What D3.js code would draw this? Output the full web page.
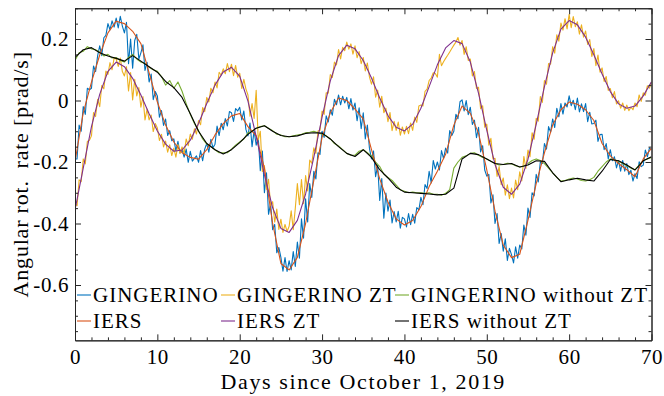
<!DOCTYPE html>
<html>
<head>
<meta charset="utf-8">
<script src="https://cdn.jsdelivr.net/npm/d3@7"></script>
<style>
  body { margin: 0; background: #fff; }
  svg text { font-family: "Liberation Serif", "Times New Roman", serif; fill: #000; }
</style>
</head>
<body>
<svg id="chart" width="664" height="396"></svg>
<script>
// daily IERS values (prad/s), day 0..70
var iersStep = 1;
var iers = [-0.199,-0.04,0.06,0.148,0.22, 0.258,0.25,0.225,0.185,0.09,
  -0.005,-0.08,-0.135,-0.17,-0.185, -0.191,-0.16,-0.112,-0.075,-0.05,
  -0.042,-0.085,-0.115,-0.22,-0.40, -0.53,-0.551,-0.51,-0.40,-0.26,
  -0.12,-0.04,0.008,0.0,-0.028, -0.06,-0.16,-0.255,-0.33,-0.385,
  -0.405,-0.39,-0.345,-0.28,-0.23, -0.175,-0.08,-0.018,-0.042,-0.107,
  -0.226,-0.36,-0.47,-0.511,-0.50, -0.39,-0.27,-0.17,-0.08,-0.03,
  -0.005,-0.012,-0.03,-0.065,-0.14, -0.18,-0.205,-0.225,-0.248,-0.19,
  -0.155];
var iersZT = [-0.356,-0.22,-0.085,0.02,0.095, 0.125,0.110,0.072,0.018,-0.043,
  -0.099,-0.142,-0.165,-0.161,-0.129, -0.075,-0.010,0.050,0.093,0.108,
  0.079,-0.002,-0.117,-0.242,-0.349, -0.416,-0.429,-0.39,-0.304,-0.184,
  -0.054,0.064,0.146,0.18,0.168, 0.130,0.073,0.008,-0.049,-0.087,
  -0.099,-0.077,-0.025,0.045,0.116, 0.171,0.195,0.185,0.125,0.023,
  -0.097,-0.208,-0.282,-0.305,-0.272, -0.191,-0.078,0.045,0.155,0.232,
  0.26,0.246,0.206,0.149,0.086, 0.029,-0.011,-0.025,-0.018,0.015,
  0.061];
var iersNoZT = [0.140,0.165,0.172,0.155,0.145, 0.137,0.128,0.146,0.128,0.110,
  0.092,0.062,0.042,0.010,-0.043, -0.100,-0.140,-0.160,-0.174,-0.160,
  -0.137,-0.110,-0.090,-0.082,-0.100, -0.114,-0.118,-0.115,-0.107,-0.105,
  -0.106,-0.125,-0.150,-0.172,-0.182, -0.160,-0.185,-0.225,-0.252,-0.282,
  -0.298,-0.300,-0.302,-0.304,-0.307, -0.305,-0.285,-0.190,-0.172,-0.176,
  -0.190,-0.205,-0.208,-0.205,-0.216, -0.210,-0.196,-0.198,-0.235,-0.264,
  -0.258,-0.253,-0.258,-0.262,-0.230, -0.192,-0.196,-0.210,-0.226,-0.196,
  -0.183];

// GINGERINO, every 6 hours (4 values per day)
var gingStep = 0.25;
var gingerino = [
  -0.19,-0.19,-0.08,-0.10, -0.02,-0.045,0.04,0.035, 0.04,0.112,0.094,0.146, 0.178,0.146,0.204,0.212, 0.25,0.23,0.259,0.239,
  0.268,0.236,0.274,0.242, 0.22,0.254,0.12,0.20, 0.105,0.195,0.215,0.135, 0.155,0.181,0.098,0.124, 0.06,0.086,0.003,0.029,
  0.015,-0.054,-0.033,-0.081, -0.06,-0.114,-0.098,-0.131, -0.125,-0.164,-0.133,-0.171, -0.16,-0.184,-0.158,-0.201, -0.165,-0.197,-0.188,-0.18,
  -0.201,-0.163,-0.196,-0.158, -0.14,-0.168,-0.126,-0.154, -0.142,-0.083,-0.114,-0.074, -0.095,-0.059,-0.083,-0.036, -0.04,-0.068,-0.026,-0.034,
  -0.022,-0.063,-0.034,-0.094, -0.115,-0.073,-0.15,-0.098, -0.145,-0.121,-0.228,-0.164, -0.30,-0.235,-0.37,-0.335, -0.42,-0.403,-0.495,-0.478,
  -0.51,-0.555,-0.511,-0.556, -0.521,-0.551,-0.491,-0.54, -0.46,-0.513,-0.385,-0.448, -0.32,-0.395,-0.27,-0.315, -0.23,-0.255,-0.17,-0.175,
  -0.10,-0.12,-0.05,-0.07, -0.03,-0.048,0.004,-0.014, 0.018,-0.014,0.014,-0.008, 0.01,-0.027,0.006,-0.031, -0.008,-0.066,-0.024,-0.092,
  -0.04,-0.125,-0.08,-0.155, -0.19,-0.164,-0.248,-0.211, -0.325,-0.254,-0.383,-0.301, -0.36,-0.324,-0.398,-0.361, -0.395,-0.36,-0.415,-0.38,
  -0.385,-0.411,-0.368,-0.404, -0.37,-0.399,-0.348,-0.356, -0.315,-0.339,-0.273,-0.286, -0.23,-0.268,-0.195,-0.223, -0.20,-0.226,-0.163,-0.189,
  -0.155,-0.171,-0.098,-0.114, -0.10,-0.045,-0.059,-0.004, 0.002,-0.034,0.0,-0.046, -0.022,-0.078,-0.064,-0.121, -0.087,-0.167,-0.147,-0.226,
  -0.246,-0.24,-0.333,-0.307, -0.40,-0.368,-0.465,-0.433, -0.49,-0.45,-0.52,-0.481, -0.501,-0.528,-0.476,-0.513, -0.47,-0.483,-0.405,-0.438,
  -0.35,-0.38,-0.30,-0.31, -0.24,-0.265,-0.20,-0.205, -0.14,-0.158,-0.085,-0.103, -0.06,-0.088,-0.025,-0.053, -0.01,-0.044,-0.008,-0.021,
  0.015,-0.017,0.001,-0.03, 0.008,-0.037,-0.011,-0.036, -0.01,-0.069,-0.038,-0.076, -0.075,-0.064,-0.133,-0.111, -0.11,-0.16,-0.14,-0.19,
  -0.16,-0.196,-0.183,-0.219, -0.195,-0.23,-0.195,-0.23, -0.205,-0.241,-0.227,-0.262, -0.238,-0.254,-0.199,-0.215, -0.21,-0.161,-0.183,-0.154,
  -0.16];
var gingerinoZT = [
  -0.336,-0.342,-0.258,-0.264, -0.19,-0.206,-0.133,-0.129, -0.115,-0.039,-0.052,0.004, -0.02,0.049,0.038,0.096, 0.085,0.123,0.10,0.138,
  0.135,0.111,0.138,0.094, 0.08,0.11,0.031,0.091, 0.002,0.069,0.015,0.042, -0.022,0.013,-0.063,-0.028, -0.063,-0.047,-0.101,-0.075,
  -0.089,-0.13,-0.11,-0.151, -0.132,-0.168,-0.144,-0.179, -0.155,-0.184,-0.143,-0.172, -0.151,-0.173,-0.125,-0.147, -0.109,-0.126,-0.092,-0.109,
  -0.065,-0.079,-0.023,-0.036, 0.01,-0.005,0.04,0.025, 0.06,0.041,0.092,0.082, 0.103,0.087,0.12,0.094, 0.118,0.081,0.114,0.076,
  0.089,0.039,0.069,0.038, 0.018,-0.051,-0.01,-0.058, 0.033,-0.128,-0.10,-0.231, -0.212,-0.289,-0.256,-0.342, -0.329,-0.396,-0.353,-0.419,
  -0.386,-0.429,-0.403,-0.426, -0.409,-0.359,-0.42,-0.35, -0.27,-0.339,-0.257,-0.336, -0.244,-0.294,-0.194,-0.204, -0.154,-0.172,-0.099,-0.097,
  -0.034,-0.045,0.025,0.024, 0.084,0.075,0.125,0.116, 0.166,0.135,0.173,0.162, 0.19,0.167,0.184,0.151, 0.178,0.139,0.159,0.12,
  0.14,0.096,0.122,0.077, 0.053,0.077,0.011,0.034, -0.022,0.014,-0.04,-0.025, -0.069,-0.039,-0.098,-0.068, -0.097,-0.07,-0.113,-0.086,
  -0.109,-0.084,-0.108,-0.073, -0.097,-0.054,-0.071,-0.018, -0.015,-0.018,0.03,0.037, 0.065,0.073,0.09,0.088, 0.076,0.15,0.113,0.126,
  0.137,0.147,0.158,0.169, 0.18,0.19,0.205,0.18, 0.195,0.15,0.175,0.13, 0.135,0.08,0.094,0.039, 0.043,-0.027,-0.017,-0.087,
  -0.077,-0.145,-0.123,-0.19, -0.188,-0.247,-0.215,-0.274, -0.252,-0.308,-0.274,-0.319, -0.285,-0.317,-0.259,-0.29, -0.232,-0.262,-0.182,-0.221,
  -0.161,-0.183,-0.105,-0.126, -0.058,-0.067,0.013,-0.006, 0.065,0.053,0.12,0.118, 0.175,0.154,0.214,0.193, 0.252,0.229,0.266,0.233,
  0.28,0.237,0.273,0.24, 0.256,0.216,0.246,0.206, 0.226,0.182,0.198,0.143, 0.169,0.113,0.148,0.092, 0.106,0.062,0.078,0.033,
  0.039,0.009,0.029,-0.011, -0.001,-0.025,-0.008,-0.032, -0.015,-0.033,-0.022,-0.03, -0.008,-0.02,0.018,-0.003, 0.025,0.017,0.048,0.04,
  0.06];
// GINGERINO without ZT, every 12 hours
var noZTStep = 0.5;
var gingerinoNoZT = [
  0.13,0.155, 0.16,0.175, 0.168,0.165, 0.158,0.145, 0.15,0.138,
  0.14,0.13, 0.125,0.14, 0.15,0.135, 0.125,0.12, 0.108,0.1,
  0.095,0.078, 0.05,0.065, 0.04,0.06, 0.03,-0.01, -0.045,-0.075,
  -0.098,-0.125, -0.142,-0.15, -0.16,-0.17, -0.17,-0.17, -0.158,-0.145,
  -0.135,-0.125, -0.105,-0.1, -0.09,-0.085, -0.082,-0.09, -0.098,-0.11,
  -0.112,-0.118, -0.118,-0.115, -0.112,-0.11, -0.105,-0.103, -0.1,-0.105,
  -0.11,-0.115, -0.125,-0.14, -0.148,-0.16, -0.172,-0.178, -0.178,-0.165,
  -0.16,-0.17, -0.18,-0.2, -0.215,-0.24, -0.25,-0.26, -0.275,-0.29,
  -0.295,-0.3, -0.298,-0.3, -0.3,-0.302, -0.3,-0.305, -0.305,-0.308,
  -0.302,-0.29, -0.22,-0.2, -0.185,-0.18, -0.172,-0.17, -0.178,-0.185,
  -0.19,-0.198, -0.205,-0.21, -0.208,-0.204, -0.206,-0.212, -0.216,-0.214,
  -0.205,-0.195, -0.19,-0.195, -0.205,-0.22, -0.235,-0.25, -0.262,-0.26,
  -0.255,-0.252, -0.255,-0.26, -0.262,-0.258, -0.25,-0.23, -0.215,-0.2,
  -0.19,-0.193, -0.198,-0.205, -0.212,-0.22, -0.225,-0.21, -0.195,-0.19,
  -0.185];

var xTicks = [0, 10, 20, 30, 40, 50, 60, 70];
var yTicks = [0.2, 0, -0.2, -0.4, -0.6];
var yTickLabels = ["0.2", "0", "-0.2", "-0.4", "-0.6"];

var names = ["GINGERINO", "GINGERINO ZT", "GINGERINO without ZT", "IERS", "IERS ZT", "IERS without ZT"];
var colors = ["#0072BD", "#EDB120", "#77AC30", "#D95319", "#7E2F8E", "#000000"];

var svg = d3.select("#chart"),
    width = +svg.attr("width"),
    height = +svg.attr("height");

// plot box (px)
var pLeft = 75, pRight = 651.5, pTop = 8.25, pBottom = 340.35;
var x = d3.scaleLinear().domain([0, 70]).range([pLeft, pRight]);
var y = d3.scaleLinear().domain([-0.78, 0.3]).range([pBottom, pTop]);

svg.append("rect").attr("width", width).attr("height", height).attr("fill", "#fff");

svg.append("clipPath").attr("id", "plotclip")
  .append("rect").attr("x", pLeft).attr("y", pTop).attr("width", pRight - pLeft).attr("height", pBottom - pTop);

// series, drawn in the legend order
var series = [
  {vals: gingerino, step: gingStep, w: 1.1},
  {vals: gingerinoZT, step: gingStep, w: 1.1},
  {vals: gingerinoNoZT, step: noZTStep, w: 1.1},
  {vals: iers, step: iersStep, w: 1.1},
  {vals: iersZT, step: iersStep, w: 1.1},
  {vals: iersNoZT, step: iersStep, w: 1.1}
];

var plot = svg.append("g").attr("clip-path", "url(#plotclip)");
series.forEach(function (s, k) {
  var line = d3.line()
    .x(function (d, i) { return x(i * s.step); })
    .y(function (d) { return y(d); });
  plot.append("path")
    .datum(s.vals)
    .attr("fill", "none")
    .attr("stroke", colors[k])
    .attr("stroke-width", s.w)
    .attr("stroke-linejoin", "round")
    .attr("d", line);
});

// axes: box with inward ticks on all sides
var axisColor = "#262626";
var xMinor = d3.range(0, 71, 2).filter(function (v) { return v % 10 != 0; });
var yMinor = d3.range(-15, 7).map(function (v) { return v * 0.05; })
  .filter(function (v) { return Math.abs(Math.round(v * 100) % 20) != 0; });

function styleAxis(g) {
  g.select(".domain").attr("stroke", axisColor).attr("stroke-width", 1);
  g.selectAll(".tick line").attr("stroke", axisColor).attr("stroke-width", 1);
  g.selectAll("text").attr("font-family", null).attr("font-size", null);
}

var gx = svg.append("g").attr("transform", "translate(0," + pBottom + ")")
  .call(d3.axisBottom(x).tickValues(xTicks).tickSizeInner(-6).tickSizeOuter(0).tickPadding(9))
  .call(styleAxis);
gx.selectAll("text").style("font-size", "21px").style("letter-spacing", "0.6px");

svg.append("g").attr("transform", "translate(0," + pBottom + ")")
  .call(d3.axisBottom(x).tickValues(xMinor).tickSizeInner(-3).tickSizeOuter(0).tickFormat(""))
  .call(styleAxis);
svg.append("g").attr("transform", "translate(0," + pTop + ")")
  .call(d3.axisTop(x).tickValues(xTicks).tickSizeInner(-6).tickSizeOuter(0).tickFormat(""))
  .call(styleAxis);
svg.append("g").attr("transform", "translate(0," + pTop + ")")
  .call(d3.axisTop(x).tickValues(xMinor).tickSizeInner(-3).tickSizeOuter(0).tickFormat(""))
  .call(styleAxis);

var gy = svg.append("g").attr("transform", "translate(" + pLeft + ",0)")
  .call(d3.axisLeft(y).tickValues(yTicks).tickSizeInner(-6).tickSizeOuter(0).tickPadding(6)
    .tickFormat(function (d, i) { return yTickLabels[i]; }))
  .call(styleAxis);
gy.selectAll("text").style("font-size", "21px").style("letter-spacing", "0.6px");

svg.append("g").attr("transform", "translate(" + pLeft + ",0)")
  .call(d3.axisLeft(y).tickValues(yMinor).tickSizeInner(-3).tickSizeOuter(0).tickFormat(""))
  .call(styleAxis);
svg.append("g").attr("transform", "translate(" + pRight + ",0)")
  .call(d3.axisRight(y).tickValues(yTicks).tickSizeInner(-6).tickSizeOuter(0).tickFormat(""))
  .call(styleAxis);
svg.append("g").attr("transform", "translate(" + pRight + ",0)")
  .call(d3.axisRight(y).tickValues(yMinor).tickSizeInner(-3).tickSizeOuter(0).tickFormat(""))
  .call(styleAxis);

// axis labels
svg.append("text")
  .attr("x", (pLeft + pRight) / 2).attr("y", 389)
  .attr("text-anchor", "middle")
  .style("font-size", "22px").style("letter-spacing", "1.6px")
  .text("Days since October 1, 2019");

svg.append("text")
  .attr("transform", "translate(28," + ((pTop + pBottom) / 2) + ") rotate(-90)")
  .attr("text-anchor", "middle")
  .style("font-size", "22px").style("letter-spacing", "0.8px")
  .text("Angular rot.\u2002rate [prad/s]");

// legend, 3 columns x 2 rows
var legCols = [77, 221, 395];
var legRows = [295, 321];
var legend = svg.append("g");
names.forEach(function (n, k) {
  var cx = legCols[k % 3], cy = legRows[Math.floor(k / 3)];
  legend.append("line")
    .attr("x1", cx).attr("x2", cx + 14)
    .attr("y1", cy).attr("y2", cy)
    .attr("stroke", colors[k]).attr("stroke-width", 1.1);
  legend.append("text")
    .attr("x", cx + 16).attr("y", cy)
    .attr("dy", "0.35em")
    .style("font-size", "21px").style("letter-spacing", "1px")
    .text(n);
});
</script>
</body>
</html>
